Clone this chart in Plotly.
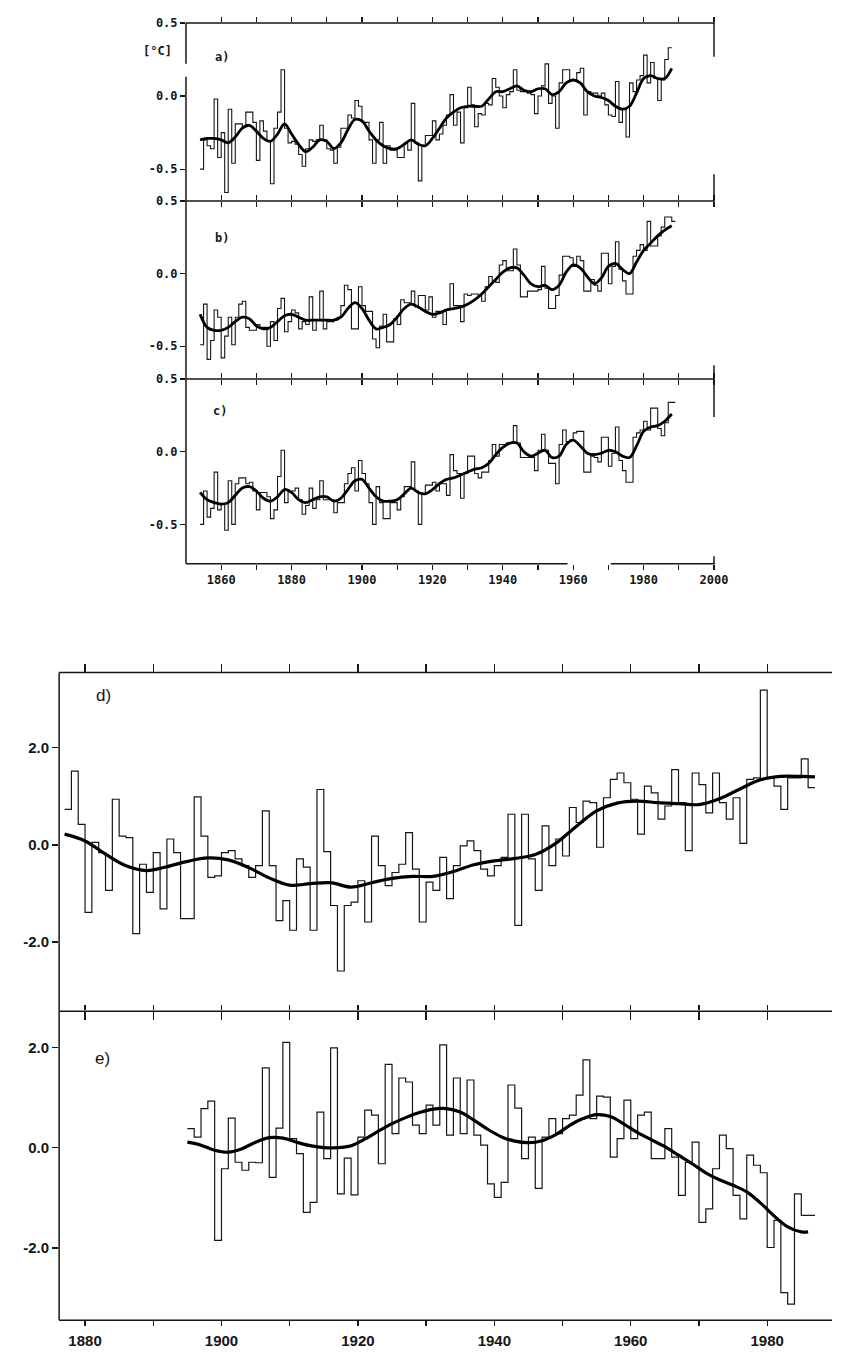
import plotly.graph_objects as go

W0, H0 = 846, 1356      # browser window
OFF = 8                  # default page margin around the figure
W, H = W0 - OFF, H0 - OFF

# ---------------- data: panels a, b, c (annual anomalies, deg C) ----------------
years_a = list(range(1854, 1988))
a_vals = [
    -0.50, -0.30, -0.34, -0.36, -0.02, -0.42, -0.25, -0.66, -0.09, -0.46,
    -0.19, -0.19, -0.21, -0.11, -0.11, -0.18, -0.44, -0.17, -0.24, -0.31,
    -0.60, -0.22, -0.11, 0.18, -0.22, -0.32, -0.31, -0.33, -0.40, -0.48,
    -0.36, -0.30, -0.31, -0.30, -0.20, -0.30, -0.36, -0.37, -0.46, -0.35,
    -0.22, -0.22, -0.13, -0.15, -0.03, -0.07, -0.18, -0.18, -0.30, -0.46,
    -0.30, -0.18, -0.46, -0.34, -0.37, -0.37, -0.42, -0.42, -0.32, -0.37,
    -0.05, -0.32, -0.58, -0.34, -0.27, -0.27, -0.17, -0.30, -0.26, -0.20,
    -0.13, 0.01, -0.20, -0.11, -0.32, -0.08, 0.06, -0.06, -0.21, -0.12,
    -0.13, -0.05, -0.06, 0.12, 0.06, 0.00, -0.08, 0.01, 0.03, 0.18,
    0.04, 0.03, 0.03, 0.02, 0.01, -0.12, 0.00, 0.07, 0.22, -0.05,
    0.00, -0.22, 0.09, 0.18, 0.18, 0.11, 0.11, 0.16, 0.19, -0.13,
    0.03, 0.02, 0.02, 0.00, 0.02, -0.06, -0.13, -0.14, 0.10, -0.18,
    -0.09, -0.28, 0.09, 0.03, 0.11, 0.14, 0.28, 0.09, 0.23, 0.12,
    -0.03, 0.11, 0.25, 0.33,
]
years_bc = list(range(1854, 1989))
b_vals = [
    -0.49, -0.21, -0.59, -0.46, -0.25, -0.30, -0.58, -0.43, -0.30, -0.49,
    -0.30, -0.21, -0.19, -0.37, -0.39, -0.39, -0.35, -0.37, -0.37, -0.50,
    -0.33, -0.46, -0.24, -0.17, -0.40, -0.33, -0.25, -0.27, -0.38, -0.33,
    -0.35, -0.16, -0.39, -0.32, -0.12, -0.38, -0.33, -0.33, -0.32, -0.30,
    -0.22, -0.08, -0.11, -0.38, -0.38, -0.09, -0.22, -0.26, -0.26, -0.45,
    -0.51, -0.36, -0.28, -0.47, -0.47, -0.31, -0.35, -0.18, -0.20, -0.20,
    -0.12, -0.23, -0.15, -0.15, -0.25, -0.16, -0.30, -0.26, -0.26, -0.35,
    -0.25, -0.07, -0.22, -0.22, -0.33, -0.14, -0.15, -0.14, -0.14, -0.15,
    -0.19, -0.09, -0.02, -0.05, -0.06, 0.06, 0.09, 0.02, 0.02, 0.17,
    0.06, -0.16, -0.16, -0.12, -0.12, -0.12, -0.11, 0.05, -0.10, -0.24,
    -0.24, -0.15, -0.01, 0.12, 0.12, 0.11, 0.05, 0.12, 0.09, -0.12,
    -0.12, -0.04, -0.08, -0.12, 0.14, 0.14, -0.07, 0.05, 0.22, 0.03,
    -0.05, -0.14, -0.14, 0.12, 0.16, 0.20, 0.16, 0.36, 0.19, 0.19,
    0.26, 0.32, 0.39, 0.39, 0.36,
]
c_vals = [
    -0.50, -0.27, -0.45, -0.39, -0.14, -0.40, -0.36, -0.54, -0.20, -0.50,
    -0.22, -0.18, -0.18, -0.22, -0.21, -0.27, -0.40, -0.28, -0.28, -0.31,
    -0.46, -0.40, -0.17, 0.01, -0.35, -0.27, -0.27, -0.25, -0.33, -0.43,
    -0.37, -0.25, -0.39, -0.33, -0.20, -0.33, -0.33, -0.33, -0.42, -0.35,
    -0.35, -0.22, -0.15, -0.11, -0.27, -0.06, -0.15, -0.22, -0.35, -0.50,
    -0.24, -0.35, -0.46, -0.46, -0.35, -0.35, -0.40, -0.31, -0.24, -0.24,
    -0.07, -0.27, -0.50, -0.29, -0.23, -0.23, -0.21, -0.27, -0.22, -0.22,
    -0.30, -0.02, -0.13, -0.15, -0.32, -0.15, -0.03, -0.03, -0.15, -0.18,
    -0.14, -0.14, -0.06, 0.05, -0.03, 0.05, 0.05, 0.06, 0.06, 0.18,
    0.06, -0.04, -0.04, -0.04, -0.04, -0.13, 0.01, 0.12, 0.01, -0.08,
    -0.08, -0.22, 0.05, 0.15, 0.07, 0.08, 0.13, 0.14, 0.14, -0.14,
    -0.14, -0.03, -0.04, -0.07, 0.10, 0.10, -0.10, -0.01, 0.17, -0.06,
    -0.13, -0.21, -0.21, 0.10, 0.13, 0.15, 0.21, 0.15, 0.30, 0.30,
    0.16, 0.11, 0.20, 0.34, 0.34,
]

# smoothed curves (every 2 years)
sm_years_abc = list(range(1854, 1989, 2))
a_smooth = [
    -0.30, -0.29, -0.29, -0.30, -0.32, -0.28, -0.22, -0.20, -0.24, -0.29,
    -0.31, -0.26, -0.19, -0.26, -0.33, -0.38, -0.35, -0.30, -0.31, -0.36,
    -0.32, -0.23, -0.16, -0.17, -0.24, -0.30, -0.34, -0.36, -0.36, -0.33,
    -0.30, -0.33, -0.34, -0.29, -0.22, -0.15, -0.11, -0.08, -0.07, -0.07,
    -0.07, -0.02, 0.03, 0.03, 0.05, 0.07, 0.04, 0.03, 0.05, 0.05,
    0.01, 0.03, 0.09, 0.11, 0.09, 0.03, 0.00, -0.01, -0.03, -0.07,
    -0.09, -0.07, 0.02, 0.12, 0.14, 0.12, 0.12, 0.19,
]
b_smooth = [
    -0.28, -0.37, -0.39, -0.39, -0.37, -0.33, -0.30, -0.31, -0.36, -0.38,
    -0.37, -0.33, -0.29, -0.28, -0.30, -0.32, -0.32, -0.32, -0.32, -0.32,
    -0.30, -0.24, -0.20, -0.24, -0.32, -0.38, -0.37, -0.35, -0.30, -0.24,
    -0.21, -0.23, -0.26, -0.28, -0.27, -0.25, -0.24, -0.23, -0.21, -0.18,
    -0.14, -0.09, -0.04, 0.01, 0.04, 0.04, -0.01, -0.07, -0.09, -0.08,
    -0.11, -0.08, 0.01, 0.06, 0.04, -0.02, -0.07, -0.03, 0.05, 0.07,
    0.03, 0.00, 0.08, 0.16, 0.21, 0.26, 0.30, 0.33,
]
c_smooth = [
    -0.28, -0.33, -0.35, -0.36, -0.35, -0.30, -0.25, -0.24, -0.27, -0.32,
    -0.34, -0.31, -0.26, -0.28, -0.33, -0.35, -0.33, -0.31, -0.31, -0.34,
    -0.32, -0.26, -0.20, -0.19, -0.25, -0.31, -0.34, -0.34, -0.33, -0.29,
    -0.25, -0.28, -0.29, -0.26, -0.22, -0.19, -0.18, -0.16, -0.14, -0.12,
    -0.11, -0.08, -0.02, 0.03, 0.06, 0.06, 0.00, -0.03, -0.01, 0.01,
    -0.04, -0.03, 0.05, 0.08, 0.04, -0.01, -0.02, -0.01, 0.01, 0.00,
    -0.03, -0.04, 0.04, 0.14, 0.17, 0.18, 0.21, 0.26,
]

# ---------------- data: panels d, e ----------------
years_d = list(range(1877, 1987))
d_vals = [
    0.73, 1.52, 0.42, -1.39, 0.05, -0.16, -0.94, 0.94, 0.18, 0.15,
    -1.83, -0.40, -0.98, -0.16, -1.32, 0.12, -0.16, -1.52, -1.52, 0.99,
    0.18, -0.67, -0.64, -0.16, -0.12, -0.29, -0.43, -0.67, -0.43, 0.70,
    -0.43, -1.56, -1.15, -1.76, -0.29, -0.46, -1.76, 1.14, -0.14, -1.25,
    -2.60, -1.25, -1.18, -0.74, -1.59, 0.18, -0.43, -0.84, -0.57, -0.40,
    0.25, -0.50, -1.59, -0.77, -0.94, -0.26, -1.11, -0.43, -0.02, 0.08,
    -0.12, -0.50, -0.64, -0.43, -0.26, 0.63, -1.66, 0.63, -0.29, -0.94,
    0.39, -0.43, 0.12, -0.23, 0.77, 0.46, 0.90, 0.87, -0.05, 0.97,
    1.35, 1.48, 1.28, 0.94, 0.22, 1.21, 1.07, 0.53, 0.80, 1.55,
    0.87, -0.12, 1.48, 1.24, 0.66, 1.48, 0.87, 0.53, 0.97, 0.03,
    1.35, 1.38, 3.19, 1.38, 1.21, 0.73, 1.38, 1.38, 1.77, 1.18,
]
sm_years_d = [1877, 1880, 1883, 1886, 1889, 1892, 1895, 1898, 1901, 1904,
              1907, 1910, 1913, 1916, 1919, 1922, 1925, 1928, 1931, 1934,
              1937, 1940, 1943, 1946, 1949, 1952, 1955, 1958, 1961, 1964,
              1967, 1970, 1973, 1976, 1979, 1982, 1985, 1987]
d_smooth = [0.22, 0.08, -0.19, -0.43, -0.53, -0.45, -0.34, -0.27, -0.31, -0.47,
            -0.68, -0.83, -0.80, -0.78, -0.87, -0.78, -0.69, -0.65, -0.65, -0.55,
            -0.41, -0.33, -0.28, -0.20, 0.03, 0.38, 0.70, 0.86, 0.90, 0.87,
            0.85, 0.83, 0.95, 1.15, 1.34, 1.41, 1.41, 1.40]

years_e = list(range(1895, 1987))
e_vals = [
    0.38, 0.21, 0.78, 0.93, -1.85, -0.42, 0.59, -0.29, -0.45, -0.29,
    -0.30, 1.59, -0.59, 0.39, 2.10, 0.18, -0.12, -1.29, -1.09, 0.71,
    -0.22, 1.99, -0.92, -0.21, -0.94, 0.21, 0.75, 0.65, -0.32, 1.66,
    0.28, 1.39, 1.31, 0.45, 0.28, 0.85, 0.45, 2.05, 0.25, 1.39,
    0.28, 1.35, 0.25, 0.05, -0.72, -0.99, -0.69, 1.25, 0.79, -0.22,
    0.21, -0.81, 0.21, 0.58, 0.28, 0.58, 0.65, 1.05, 1.75, 0.58,
    1.03, 1.01, -0.19, 0.18, 0.95, 0.18, 0.65, 0.71, -0.22, -0.22,
    0.38, -0.19, -0.95, -0.29, 0.11, -1.49, -1.22, -0.42, 0.25, -0.02,
    -0.95, -1.42, -0.15, -0.35, -0.50, -1.99, -1.45, -2.89, -3.12, -0.92,
    -1.35, -1.35,
]
sm_years_e = list(range(1895, 1987, 2)) + [1986]
e_smooth = [0.11, 0.05, -0.05, -0.09, -0.02, 0.11, 0.20, 0.19, 0.11, 0.04,
            0.00, 0.00, 0.04, 0.17, 0.33, 0.48, 0.60, 0.70, 0.77, 0.78,
            0.71, 0.55, 0.37, 0.22, 0.13, 0.10, 0.14, 0.26, 0.44, 0.58,
            0.66, 0.62, 0.47, 0.30, 0.16, 0.02, -0.15, -0.32, -0.50, -0.64,
            -0.75, -0.88, -1.10, -1.36, -1.58, -1.68, -1.68]

top_ticks = list(range(1860, 2001, 10))
top_ticktext = ["1860", "", "1880", "", "1900", "", "1920", "", "1940", "", "1960", "", "1980", "", "2000"]
bot_ticks = list(range(1880, 1990, 10))
bot_ticktext = ["1880", "", "1900", "", "1920", "", "1940", "", "1960", "", "1980"]

# ---------------- layout helpers (page pixels -> paper fractions) ----------------
def fx(p):
    return (p - OFF) / W

def fy(p):
    return 1 - (p - OFF) / H

INK = "#161616"
MONO = dict(family="DejaVu Sans Mono", size=12, color=INK, weight="bold")
SANS = dict(family="Liberation Sans", size=15, color=INK, weight="bold")

fig = go.Figure()

panels = [
    ("x", "y", years_a, a_vals, sm_years_abc, a_smooth, 1.1, 2.8),
    ("x2", "y2", years_bc, b_vals, sm_years_abc, b_smooth, 1.1, 2.8),
    ("x3", "y3", years_bc, c_vals, sm_years_abc, c_smooth, 1.1, 2.8),
    ("x4", "y4", years_d, d_vals, sm_years_d, d_smooth, 1.2, 3.2),
    ("x5", "y5", years_e, e_vals, sm_years_e, e_smooth, 1.2, 3.2),
]
for xa, ya, yrs, vals, syrs, svals, lw, slw in panels:
    fig.add_trace(go.Scatter(
        x=yrs + [yrs[-1] + 1], y=vals + [vals[-1]], mode="lines",
        line=dict(color=INK, width=lw, shape="hv"),
        xaxis=xa, yaxis=ya, showlegend=False, hoverinfo="skip"))
    fig.add_trace(go.Scatter(
        x=syrs, y=svals, mode="lines",
        line=dict(color="black", width=slw, shape="spline", smoothing=1.0),
        xaxis=xa, yaxis=ya, showlegend=False, hoverinfo="skip"))

top_xdom = [fx(189), fx(726)]
bot_xdom = [fx(60), 1.0]

def top_x(anchor, side, labels):
    return dict(domain=top_xdom, range=[1850, 2000], anchor=anchor, side=side,
                tickvals=top_ticks, ticktext=top_ticktext, showticklabels=labels,
                ticks="outside", ticklen=5, tickwidth=1.3, tickcolor=INK,
                mirror="ticks", showline=False, showgrid=False, zeroline=False,
                tickfont=MONO, fixedrange=True)

def bot_x(anchor, side, labels, ticklen):
    return dict(domain=bot_xdom, range=[1876.2, 1989.5], anchor=anchor, side=side,
                tickvals=bot_ticks, ticktext=bot_ticktext, showticklabels=labels,
                ticks="outside", ticklen=ticklen, tickwidth=1.4, tickcolor=INK,
                mirror="ticks", showline=False, showgrid=False, zeroline=False,
                tickfont=SANS, ticklabelstandoff=2, fixedrange=True)

def top_y(anchor, dom, rng):
    return dict(domain=dom, range=rng, anchor=anchor,
                tickvals=[0.5, 0.0, -0.5], ticktext=["0.5", "0.0", "-0.5"],
                ticks="outside", ticklen=5, tickwidth=1.3, tickcolor=INK,
                showline=False, showgrid=False, zeroline=False,
                tickfont=MONO, fixedrange=True)

def bot_y(anchor, dom, rng):
    return dict(domain=dom, range=rng, anchor=anchor,
                tickvals=[2.0, 0.0, -2.0], ticktext=["2.0", "0.0", "-2.0"],
                ticks="outside", ticklen=6, tickwidth=1.4, tickcolor=INK,
                showline=False, showgrid=False, zeroline=False,
                tickfont=SANS, fixedrange=True)

fig.update_layout(
    width=W, height=H,
    margin=dict(l=0, r=0, t=0, b=0),
    paper_bgcolor="white", plot_bgcolor="rgba(0,0,0,0)",
    xaxis=top_x("y", "top", False),
    xaxis2=top_x("y2", "top", False),
    xaxis3=top_x("y3", "bottom", True),
    xaxis4=bot_x("y4", "top", False, 8),
    xaxis5=bot_x("y5", "bottom", True, 5),
    yaxis=top_y("x", [fy(195), fy(16)], [-0.718, 0.5]),
    yaxis2=top_y("x2", [fy(374), fy(195)], [-0.726, 0.5]),
    yaxis3=top_y("x3", [fy(559.5), fy(374)], [-0.77, 0.5]),
    yaxis4=bot_y("x4", [fy(1009.5), fy(669)], [-3.43, 3.55]),
    yaxis5=bot_y("x5", [fy(1320), fy(1009.5)], [-3.44, 2.72]),
)

# frame lines (with the gaps seen in the printed figure)
frame = [
    # top group
    (189, 16, 727, 16), (189, 195, 727, 195), (189, 374, 727, 374),
    (189, 559.5, 577, 559.5), (621, 559.5, 727, 559.5),
    (189, 16, 189, 57), (189, 70, 189, 559.5),
    (726, 16, 726, 50), (726, 168, 726, 195), (726, 360, 726, 412), (726, 552, 726, 559.5),
    # bottom group
    (60, 669, 846, 669), (60, 1009.5, 846, 1009.5), (60, 1320, 846, 1320),
    (60, 669, 60, 1320),
]
for x0, y0, x1, y1 in frame:
    fig.add_shape(type="line", xref="paper", yref="paper",
                  x0=fx(x0), y0=fy(y0), x1=fx(x1), y1=fy(y1),
                  line=dict(color=INK, width=1.5))

notes = [
    ("[°C]", 160, 44, MONO),
    ("a)", 226, 50, MONO),
    ("b)", 226, 232, MONO),
    ("c)", 224, 406, MONO),
    ("d)", 105, 692, dict(family="Liberation Sans", size=17, color=INK)),
    ("e)", 104, 1057, dict(family="Liberation Sans", size=17, color=INK)),
]
for txt, x, y, f in notes:
    fig.add_annotation(text=txt, x=fx(x), y=fy(y), xref="paper", yref="paper",
                       showarrow=False, font=f, xanchor="center", yanchor="middle")

fig.write_html("out.html", config={"displayModeBar": False, "staticPlot": True})
